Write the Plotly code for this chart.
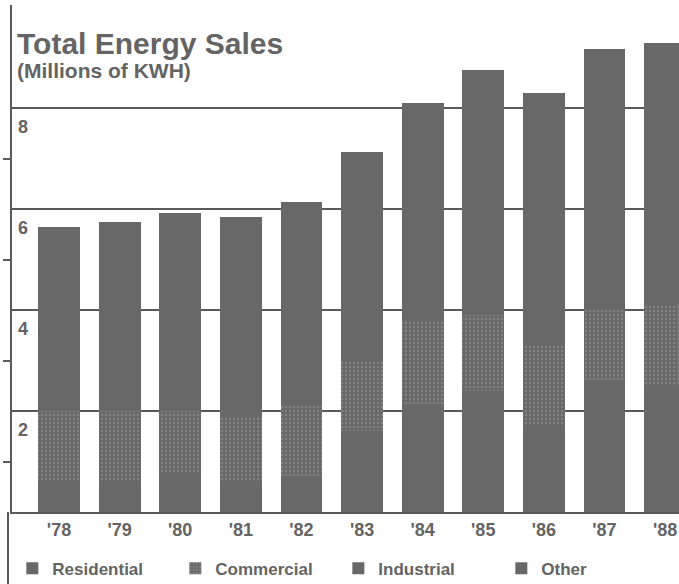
import plotly.graph_objects as go

years = ["'78", "'79", "'80", "'81", "'82", "'83", "'84", "'85", "'86", "'87", "'88"]
residential = [0.60, 0.60, 0.80, 0.60, 0.70, 1.60, 2.10, 2.40, 1.70, 2.60, 2.50]
commercial = [1.40, 1.40, 1.20, 1.30, 1.40, 1.40, 1.70, 1.50, 1.60, 1.40, 1.60]
industrial = [3.34, 3.44, 3.62, 3.64, 3.74, 3.83, 3.90, 4.45, 4.60, 4.77, 4.79]
other = [0.30, 0.30, 0.30, 0.30, 0.30, 0.30, 0.40, 0.40, 0.40, 0.40, 0.40]

y_label_vals = [2, 4, 6, 8]
y_label_text = ["2", "4", "6", "8"]
minor_tick_vals = [1, 3, 5, 7]

FONT = "Liberation Sans"
TXT = "#646464"
LINE = "#5a5a5a"
BAR = "#686868"

fig = go.Figure()
series = [
    ("Residential", residential, None),
    ("Commercial", commercial, dict(shape=".", fillmode="overlay", fgcolor="#9a9a9a", size=4, solidity=0.3)),
    ("Industrial", industrial, None),
    ("Other", other, None),
]
for name, vals, pat in series:
    marker = dict(color=BAR, line=dict(width=0))
    if pat:
        marker["pattern"] = pat
    fig.add_trace(go.Bar(x=list(range(len(years))), y=vals, name="<b>" + name + "</b>", width=0.69, marker=marker))

for v, t in zip(y_label_vals, y_label_text):
    fig.add_annotation(x=0, xref="paper", xanchor="left", xshift=4, y=v, yref="y", yanchor="top", yshift=-7,
                       text="<b>" + t + "</b>", showarrow=False, font=dict(family=FONT, size=18, color=TXT))

fig.add_annotation(x=0, xref="paper", xanchor="left", xshift=3, y=1, yref="paper", yanchor="top", yshift=-20,
                   text="<b>Total Energy Sales</b>", showarrow=False,
                   font=dict(family=FONT, size=30, color=TXT))
fig.add_annotation(x=0, xref="paper", xanchor="left", xshift=3, y=1, yref="paper", yanchor="top", yshift=-52,
                   text="<b>(Millions of KWH)</b>", showarrow=False,
                   font=dict(family=FONT, size=21, color=TXT))

# continuation of the left rule below the plot
fig.add_shape(type="line", xref="paper", yref="paper", x0=-0.006, x1=-0.006, y0=0, y1=-0.142,
              line=dict(color=LINE, width=2))

fig.update_layout(
    width=679, height=584,
    margin=dict(l=12, r=0, t=5, b=72, autoexpand=False),
    paper_bgcolor="white", plot_bgcolor="white",
    barmode="stack",
    font=dict(family=FONT, color=TXT),
    showlegend=True,
    legend=dict(orientation="h", x=0.0005, xanchor="left", y=-0.112, yanchor="middle",
                traceorder="normal", entrywidth=118, entrywidthmode="pixels",
                bgcolor="rgba(0,0,0,0)",
                font=dict(family=FONT, size=17, color=TXT), itemclick=False),
    xaxis=dict(range=[-0.776, 10.23], tickmode="array", tickvals=list(range(len(years))),
               ticktext=["<b>" + y + "</b>" for y in years], ticks="", showgrid=False,
               showline=True, linecolor=LINE, linewidth=2, zeroline=False,
               tickfont=dict(family=FONT, size=18, color=TXT), fixedrange=True),
    yaxis=dict(range=[0, 10.04], tickmode="array", tickvals=[0] + y_label_vals, showticklabels=False,
               ticks="", showgrid=True, gridcolor=LINE, gridwidth=2, zeroline=False,
               showline=True, linecolor=LINE, linewidth=2,
               minor=dict(tickmode="array", tickvals=minor_tick_vals, ticks="outside", ticklen=7,
                          tickwidth=2, tickcolor=LINE, showgrid=False),
               fixedrange=True),
)

fig.write_html("out.html")
